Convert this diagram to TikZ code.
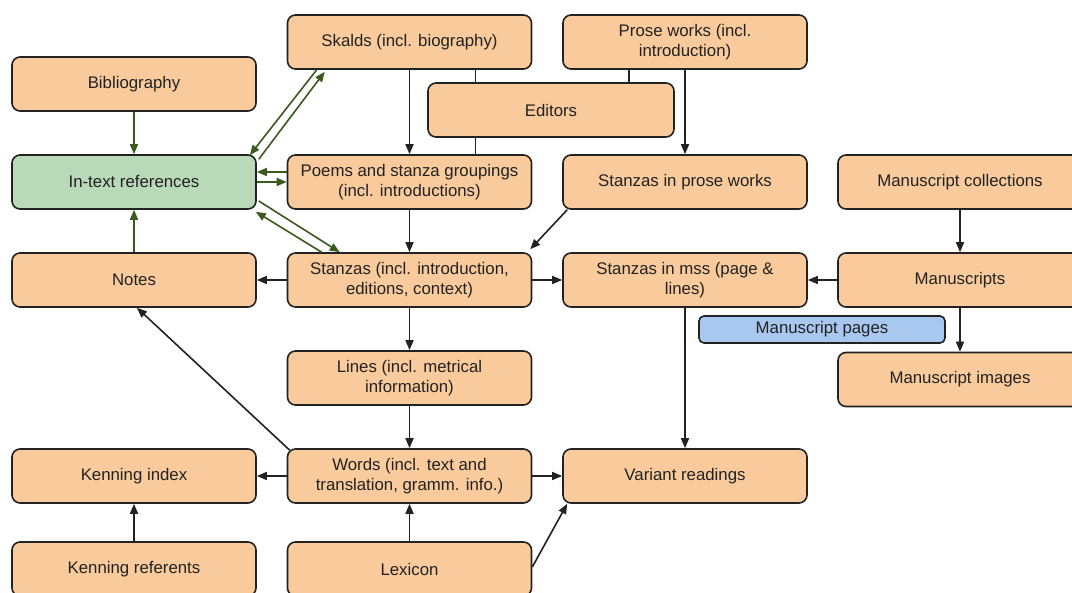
\documentclass[tikz,border=0pt]{standalone}
\usepackage{fontspec}
\setmainfont{Liberation Sans}
\usetikzlibrary{arrows.meta}
\definecolor{boxorange}{HTML}{F9CB9C}
\definecolor{boxgreen}{HTML}{B9D9B8}
\definecolor{boxblue}{HTML}{A8C8F0}
\definecolor{ink}{HTML}{222222}
\definecolor{refline}{HTML}{3A5A1E}
\tikzset{
  entity/.style={draw=ink, line width=1.6pt, rounded corners=8pt, fill=boxorange,
    minimum width=244pt, minimum height=54pt, align=center, text=ink,
    font=\fontsize{16.8}{19.5}\selectfont, inner sep=2pt},
  refbox/.style={entity, fill=boxgreen},
  pagebox/.style={entity, fill=boxblue, minimum width=246pt, minimum height=27pt, rounded corners=5pt},
  arr/.style={draw=ink, line width=1.6pt, -{Triangle[length=10pt,width=8pt]}},
  link/.style={draw=ink, line width=1.6pt},
  refarr/.style={draw=refline, line width=1.6pt, -{Triangle[length=10pt,width=8pt]}}
}
\begin{document}
\begin{tikzpicture}[x=1pt,y=-1pt]
\useasboundingbox (0,0) rectangle (1072,593);
\clip (0,0) rectangle (1072,593);
\fill[white] (0,0) rectangle (1072,593);

% boxes
\node[entity] (skalds) at (409.5,42) {Skalds (incl. biography)};
\node[entity] (prose) at (685,42) {Prose works (incl.\\introduction)};
\node[entity, minimum width=246pt] (editors) at (551,110) {Editors};
\node[entity] (biblio) at (134,84) {Bibliography};
\node[refbox] (intext) at (134,182) {In-text references};
\node[entity] (poems) at (409.5,182) {Poems and stanza groupings\\(incl. introductions)};
\node[entity] (stprose) at (685,182) {Stanzas in prose works};
\node[entity] (mscoll) at (960,182) {Manuscript collections};
\node[entity] (notes) at (134,280) {Notes};
\node[entity] (stanzas) at (409.5,280) {Stanzas (incl. introduction,\\editions, context)};
\node[entity] (stmss) at (685,280) {Stanzas in mss (page \&\\lines)};
\node[entity] (mss) at (960,280) {Manuscripts};
\node[pagebox] (mspages) at (822,329.5) {Manuscript pages};
\node[entity] (msimages) at (960,379.5) {Manuscript images};
\node[entity] (lines) at (409.5,378) {Lines (incl. metrical\\information)};
\node[entity] (kindex) at (134,476) {Kenning index};
\node[entity] (words) at (409.5,476) {Words (incl. text and\\translation, gramm. info.)};
\node[entity] (variant) at (685,476) {Variant readings};
\node[entity] (kref) at (134,569) {Kenning referents};
\node[entity] (lexicon) at (409.5,569) {Lexicon};

% editors attach to skalds, prose works and poems
\draw[link] ([xshift=66pt]skalds.south) -- ([xshift=66pt]skalds.south |- editors.north);
\draw[link] ([xshift=-56pt]prose.south) -- ([xshift=-56pt]prose.south |- editors.north);
\draw[link] ([xshift=66pt]poems.north |- editors.south) -- ([xshift=66pt]poems.north);

% main flow
\draw[arr] (skalds) -- (poems);
\draw[arr] (prose) -- (stprose);
\draw[arr] (poems) -- (stanzas);
\draw[arr] ([xshift=5pt]stprose.south west) -- ([xshift=-2pt,yshift=3pt]stanzas.north east);
\draw[arr] (stanzas) -- (notes);
\draw[arr] (stanzas) -- (stmss);
\draw[arr] (mss) -- (stmss);
\draw[arr] (mscoll) -- (mss);
\draw[arr] (mss) -- (msimages);
\draw[arr] (stanzas) -- (lines);
\draw[arr] (lines) -- (words);
\draw[arr] (words) -- (kindex);
\draw[arr] (words) -- (variant);
\draw[arr] (stmss) -- (variant);
\draw[arr] (kref) -- (kindex);
\draw[arr] (lexicon) -- (words);
\draw[arr] ([yshift=2pt]lexicon.east) -- ([xshift=5pt]variant.south west);
\draw[arr] ([xshift=3pt,yshift=-2pt]words.north west) -- ([xshift=3pt]notes.south);

% in-text references
\draw[refarr] (biblio) -- (intext);
\draw[refarr] (notes) -- (intext);
\draw[refarr] ([xshift=30pt]skalds.south west) -- ([xshift=-7pt,yshift=-1pt]intext.north east);
\draw[refarr] ([xshift=2pt,yshift=-5pt]intext.north east) -- ([xshift=38pt,yshift=-2pt]skalds.south west);
\draw[refarr] ([yshift=10pt]poems.west) -- ([yshift=10pt]intext.east);
\draw[refarr] ([yshift=0pt]intext.east) -- ([yshift=0pt]poems.west);
\draw[refarr] ([xshift=2pt,yshift=-19pt]intext.east) -- ([xshift=53pt]stanzas.north west);
\draw[refarr] ([xshift=35pt]stanzas.north west) -- ([xshift=-1pt,yshift=-2pt]intext.south east);
\end{tikzpicture}
\end{document}
